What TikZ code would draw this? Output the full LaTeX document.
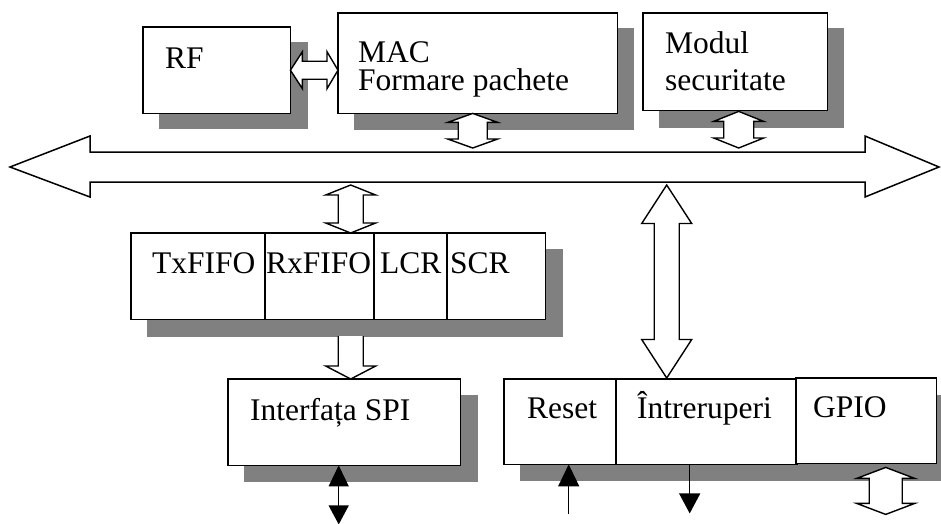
\documentclass[tikz,border=0pt]{standalone}
\usepackage{fontspec}
\setmainfont{Liberation Serif}
\usetikzlibrary{calc,arrows.meta}

\definecolor{shadowgray}{HTML}{808080}

% vertical hollow double block arrow: top tip, bottom tip, shaft half-width, head half-width, head length
\newcommand\blockarrowV[5]{%
  \draw[blockarrow] (#1) -- ($(#1)+(#4,#5)$) -- ($(#1)+(#3,#5)$) -- ($(#2)+(#3,-#5)$)
    -- ($(#2)+(#4,-#5)$) -- (#2) -- ($(#2)+(-#4,-#5)$) -- ($(#2)+(-#3,-#5)$)
    -- ($(#1)+(-#3,#5)$) -- ($(#1)+(-#4,#5)$) -- cycle;}

\begin{document}
\begin{tikzpicture}[x=1pt,y=-1pt,
  box/.style={draw=black,line width=1.4pt,fill=white,rectangle,inner sep=0pt,anchor=north west},
  txt/.style={font=\fontsize{31.5}{36}\selectfont,inner sep=0pt,anchor=base west},
  txttwo/.style={inner sep=0pt,anchor=north west,align=left},
  blockarrow/.style={draw=black,line width=1.4pt,fill=white,line join=miter},
  pinline/.style={draw=black,line width=1.4pt},
  shadowfill/.style={fill=shadowgray}]

\clip (0,0) rectangle (941,523);
\fill[white] (0,0) rectangle (941,523);

% boxes
\node[box,minimum width=146pt,minimum height=85pt] (rf) at (143,27) {};
\node[box,minimum width=278pt,minimum height=99pt] (mac) at (338,13) {};
\node[box,minimum width=183pt,minimum height=96pt] (sec) at (643,13) {};

\node[box,minimum width=134pt,minimum height=85pt] (tx) at (131,233) {};
\node[box,minimum width=109pt,minimum height=85pt] (rx) at (265,233) {};
\node[box,minimum width=73pt,minimum height=85pt] (lcr) at (374,233) {};
\node[box,minimum width=97pt,minimum height=85pt] (scr) at (447,233) {};

\node[box,minimum width=231pt,minimum height=85pt] (spi) at (228,379) {};

\node[box,minimum width=112pt,minimum height=84pt] (reset) at (504,379) {};
\node[box,minimum width=180pt,minimum height=84pt] (intr) at (616,379) {};
\node[box,minimum width=139pt,minimum height=84pt] (gpio) at (796,378) {};

% drop shadows
\fill[shadowfill] ($(rf.north west)+(16,15)$) rectangle ($(rf.south east)+(18,16)$);
\fill[shadowfill] ($(mac.north west)+(16,15)$) rectangle ($(mac.south east)+(17,17)$);
\fill[shadowfill] ($(sec.north west)+(16,15)$) rectangle ($(sec.south east)+(17,18)$);
\fill[shadowfill] ($(tx.north west)+(16,16)$) rectangle ($(scr.south east)+(18,18)$);
\fill[shadowfill] ($(spi.north west)+(16,16)$) rectangle ($(spi.south east)+(18,17)$);
\fill[shadowfill] ($(reset.north west)+(16,16)$) rectangle ($(gpio.south east)+(20,18)$);

% redraw boxes over their shadows
\foreach \b in {rf,mac,sec,tx,rx,lcr,scr,spi,reset,intr,gpio}{
  \draw[line width=1.4pt,fill=white] (\b.north west) rectangle (\b.south east);
}

% labels
\node[txt] (trf) at ($(rf.north west)+(22,41)$) {RF};
\node[txttwo,font=\fontsize{31.5}{28}\selectfont] (tmac) at ($(mac.north west)+(20,28)$) {MAC\\Formare pachete};
\node[txttwo,font=\fontsize{31.5}{37}\selectfont] (tmod) at ($(sec.north west)+(22,18)$) {Modul\\securitate};
\node[txt] (ttx) at ($(tx.north west)+(21,40)$) {TxFIFO};
\node[txt] (trx) at ($(rx.north west)+(1,40)$) {RxFIFO};
\node[txt] (tlcr) at ($(lcr.north west)+(6,40)$) {LCR};
\node[txt] (tscr) at ($(scr.north west)+(3,40)$) {SCR};
\node[txt] (tspi) at ($(spi.north west)+(22,41)$) {Interfața SPI};
\node[txt] (treset) at ($(reset.north west)+(23,39)$) {Reset};
\node[txt] (tintr) at ($(intr.north west)+(21,39)$) {Întreruperi};
\node[txt] (tgpio) at ($(gpio.north west)+(17,39)$) {GPIO};

% system bus
\coordinate (busL) at (10,167);
\coordinate (busR) at (939,167);
\coordinate (busN) at (0,152);
\coordinate (busS) at (0,182);
\draw[blockarrow,line width=1.5pt] (busL) -- ($(busL)+(80,-31)$) -- ($(busL)+(80,-15)$)
  -- ($(busR)+(-74,-15)$) -- ($(busR)+(-74,-31)$) -- (busR) -- ($(busR)+(-74,30)$)
  -- ($(busR)+(-74,15)$) -- ($(busL)+(80,15)$) -- ($(busL)+(80,30)$) -- cycle;

% RF <-> MAC
\coordinate (rfmacL) at (rf.east);
\coordinate (rfmacR) at (rf.east -| mac.west);
\draw[blockarrow] (rfmacL) -- ($(rfmacL)+(12,-18.5)$) -- ($(rfmacL)+(12,-9)$)
  -- ($(rfmacR)+(-11,-9)$) -- ($(rfmacR)+(-11,-18.5)$) -- (rfmacR)
  -- ($(rfmacR)+(-11,18.5)$) -- ($(rfmacR)+(-11,9)$) -- ($(rfmacL)+(12,9)$)
  -- ($(rfmacL)+(12,18.5)$) -- cycle;

% MAC <-> bus, security module <-> bus
\coordinate (macbusT) at ($(mac.south)+(-5,0)$);
\coordinate (macbusB) at ($(macbusT |- busN)+(0,-4)$);
\blockarrowV{macbusT}{macbusB}{14.5}{25}{9}
\coordinate (secbusT) at ($(sec.south)+(3.5,1)$);
\coordinate (secbusB) at ($(secbusT |- busN)+(0,-4)$);
\blockarrowV{secbusT}{secbusB}{15}{25}{10}

% bus <-> FIFO registers
\coordinate (fifoB) at ($(rx.north)+(30.5,0)$);
\coordinate (fifoT) at ($(fifoB |- busS)+(0,3)$);
\blockarrowV{fifoT}{fifoB}{12.5}{25}{10}

% FIFO registers -> SPI interface
\coordinate (spiTip) at (spi.north -| fifoB);
\coordinate (spiTop) at ($(spiTip)+(0,-43)$);
\draw[blockarrow] ($(spiTop)+(-12.5,0)$) -- ($(spiTip)+(-12.5,-13)$) -- ($(spiTip)+(-25,-13)$)
  -- (spiTip) -- ($(spiTip)+(25,-13)$) -- ($(spiTip)+(12.5,-13)$) -- ($(spiTop)+(12.5,0)$);

% bus <-> interrupt block
\coordinate (intrB) at ($(intr.north)+(-40,-1)$);
\coordinate (intrT) at ($(intrB |- busS)+(0,3)$);
\blockarrowV{intrT}{intrB}{12.5}{25}{38.5}

% SPI pins
\coordinate (spiOut) at ($(spi.south)+(-5.5,0)$);
\coordinate (spiEnd) at ($(spiOut)+(0,59)$);
\draw[pinline,{Triangle[length=21pt,width=20pt]}-{Triangle[length=19pt,width=20pt]}] (spiOut) -- (spiEnd);

% reset input
\coordinate (resetIn) at ($(reset.south)+(8,0)$);
\coordinate (resetSrc) at ($(resetIn)+(0,50)$);
\draw[pinline,-{Triangle[length=22pt,width=21pt]}] (resetSrc) -- (resetIn);

% interrupt output
\coordinate (intrOut) at ($(intr.south)+(-17,0)$);
\coordinate (intrEnd) at ($(intrOut)+(0,49)$);
\draw[pinline,-{Triangle[length=20pt,width=21pt]}] (intrOut) -- (intrEnd);

% GPIO pins
\coordinate (gpioT) at ($(gpio.south)+(19.5,4)$);
\coordinate (gpioB) at ($(gpioT)+(0,47)$);
\blockarrowV{gpioT}{gpioB}{16.5}{29}{11}

\end{tikzpicture}
\end{document}
